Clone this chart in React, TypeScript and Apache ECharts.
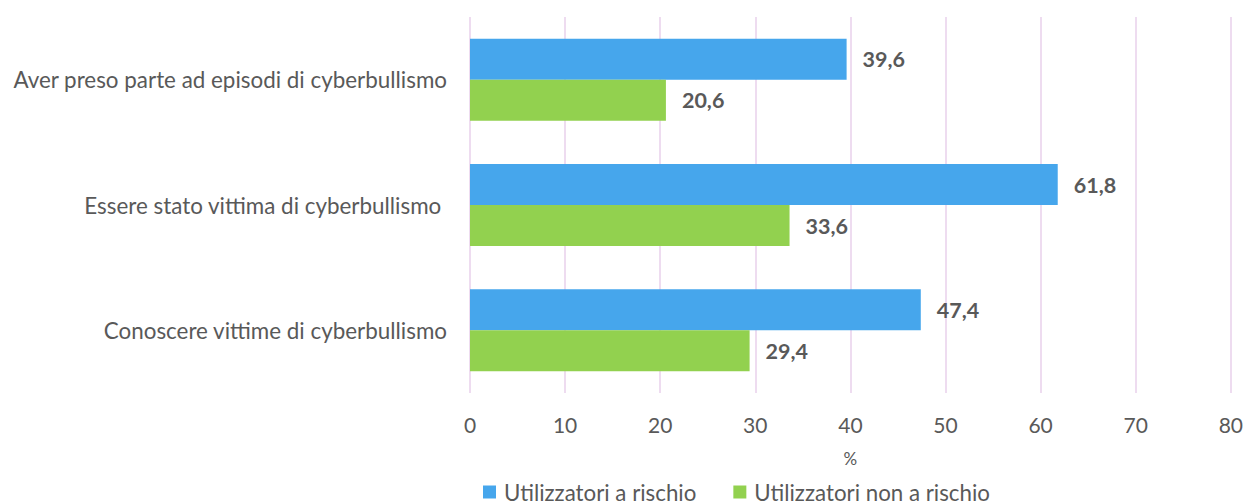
import React, { useEffect, useRef } from "react";
import * as echarts from "echarts";

const categories = [
  "Aver preso parte ad episodi di cyberbullismo",
  "Essere stato vittima di cyberbullismo ",
  "Conoscere vittime di cyberbullismo",
];
const seriesNames = ["Utilizzatori a rischio", "Utilizzatori non a rischio"];
const atRisk = [39.6, 61.8, 47.4];
const notAtRisk = [20.6, 33.6, 29.4];
const colors = ["#46A6EC", "#92D14F"];

const fmt = (v: number) => v.toFixed(1).replace(".", ",");

export default function App() {
  const ref = useRef<HTMLDivElement>(null);
  useEffect(() => {
    if (!ref.current) return;
    const chart = echarts.init(ref.current, null, { renderer: "svg" });
    const font = "Lato, 'Open Sans', sans-serif";
    const label = {
      show: true,
      position: "right",
      distance: 16,
      fontSize: 21.5,
      fontWeight: "bold",
      color: "#595959",
      fontFamily: font,
      formatter: (p: any) => fmt(p.value),
    };
    chart.setOption({
      animation: false,
      textStyle: { fontFamily: font },
      grid: { left: 470, right: 15, top: 17, bottom: 111, containLabel: false },
      legend: {
        top: 476,
        left: 478,
        itemWidth: 13,
        itemHeight: 13,
        itemGap: 37,
        icon: "rect",
        textStyle: { fontSize: 22.3, color: "#595959", fontFamily: font, padding: [0, 0, 0, 3] },
        data: seriesNames,
      },
      xAxis: {
        type: "value",
        min: 0,
        max: 80,
        interval: 10,
        name: "%",
        nameLocation: "middle",
        nameGap: 57,
        nameTextStyle: { fontSize: 17, color: "#595959", fontFamily: font },
        axisLine: { show: false },
        axisTick: { show: false },
        axisLabel: { fontSize: 21, color: "#595959", margin: 21, fontFamily: font },
        splitLine: { show: true, lineStyle: { color: "#EEDCF0", width: 2 } },
      },
      yAxis: {
        type: "category",
        inverse: true,
        data: categories,
        axisLine: { show: false },
        axisTick: { show: false },
        axisLabel: { fontSize: 22.4, color: "#595959", margin: 23, fontFamily: font },
      },
      series: [
        {
          name: seriesNames[0],
          type: "bar",
          data: atRisk,
          barWidth: 41,
          barGap: "0%",
          itemStyle: { color: colors[0] },
          label,
        },
        {
          name: seriesNames[1],
          type: "bar",
          data: notAtRisk,
          barWidth: 41,
          barGap: "0%",
          itemStyle: { color: colors[1] },
          label,
        },
      ],
    });
    return () => chart.dispose();
  }, []);
  return (
    <div
      ref={ref}
      style={{ position: "absolute", left: 0, top: 0, width: 1246, height: 504 }}
    />
  );
}
